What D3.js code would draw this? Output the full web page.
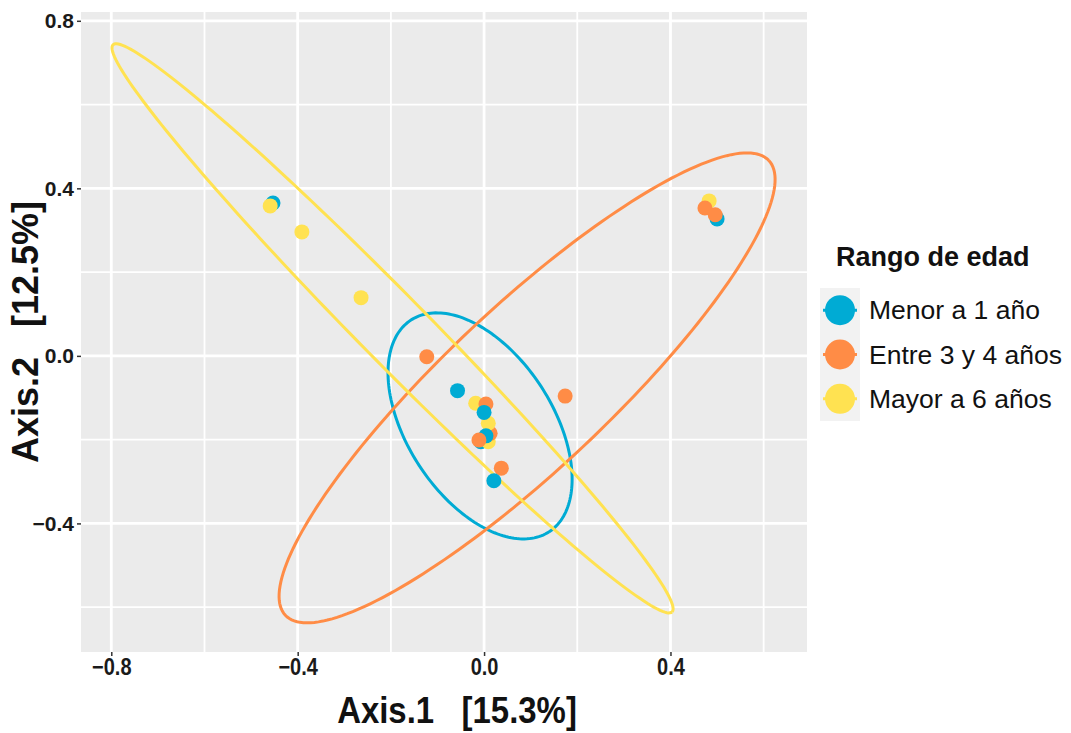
<!DOCTYPE html>
<html>
<head>
<meta charset="utf-8">
<script src="https://cdn.jsdelivr.net/npm/d3@7"></script>
<style>
  html, body { margin: 0; padding: 0; background: #ffffff; }
  svg { display: block; }
</style>
</head>
<body>
<svg id="chart" width="1071" height="733"></svg>
<script>
// Ordination (PCoA) of samples coloured by age group, with 95% ellipses.
const groups = ["Menor a 1 año", "Entre 3 y 4 años", "Mayor a 6 años"];
const groupColors = ["#00ABD4", "#FF8C46", "#FFE251"];

// Sample coordinates in plotting order (0 = Menor, 1 = Entre, 2 = Mayor)
const sampleAxis1 = [-0.453, -0.459, -0.391, -0.264,
                     0.483, 0.500, 0.474, 0.496,
                     -0.123, -0.057, 0.174,
                     -0.007, 0.009, 0.013, 0.009, -0.018, 0.004, 0.000, 0.004, -0.011,
                     0.037, 0.021];
const sampleAxis2 = [0.365, 0.358, 0.296, 0.139,
                     0.370, 0.327, 0.353, 0.337,
                     -0.002, -0.083, -0.096,
                     -0.205, -0.205, -0.185, -0.161, -0.113, -0.115, -0.135, -0.191, -0.201,
                     -0.268, -0.298];
const sampleGroup = [0, 2, 2, 2,
                     2, 0, 1, 1,
                     1, 0, 1,
                     0, 2, 1, 2, 2, 1, 0, 0, 1,
                     1, 0];

// Ellipse per group: centre plus two conjugate semi-axis vectors (axis units)
const ellipseCenter1 = [-0.0086, 0.0923, -0.1964];
const ellipseCenter2 = [-0.1672, -0.0764, 0.0657];
const ellipseMajor1  = [0.1483, 0.5187, 0.5998];
const ellipseMajor2  = [-0.2527, 0.5430, -0.6770];
const ellipseMinor1  = [-0.1305, 0.1193, 0.0519];
const ellipseMinor2  = [-0.0948, -0.1411, 0.0571];

const xTicks = [-0.8, -0.4, 0.0, 0.4];
const yTicks = [-0.4, 0.0, 0.4, 0.8];
const xMinor = [-0.6, -0.2, 0.2, 0.6];
const yMinor = [-0.6, -0.2, 0.2, 0.6];
const xTitle = "Axis.1   [15.3%]";
const yTitle = "Axis.2   [12.5%]";
const legendTitle = "Rango de edad";

const FONT = "'Liberation Sans', Arial, sans-serif";
const svg = d3.select("#chart");
const panel = { left: 81, right: 807, top: 12, bottom: 652 };

const x = d3.scaleLinear().domain([-0.865, 0.693]).range([panel.left, panel.right]);
const y = d3.scaleLinear().domain([-0.707, 0.821]).range([panel.bottom, panel.top]);

svg.append("defs").append("clipPath").attr("id", "panel-clip")
  .append("rect")
  .attr("x", panel.left).attr("y", panel.top)
  .attr("width", panel.right - panel.left).attr("height", panel.bottom - panel.top);

// panel background
svg.append("rect")
  .attr("x", panel.left).attr("y", panel.top)
  .attr("width", panel.right - panel.left).attr("height", panel.bottom - panel.top)
  .attr("fill", "#EBEBEB");

// grid
const grid = svg.append("g");
grid.selectAll(".vminor").data(xMinor).join("line")
  .attr("x1", d => x(d)).attr("x2", d => x(d))
  .attr("y1", panel.top).attr("y2", panel.bottom)
  .attr("stroke", "#fff").attr("stroke-width", 1.8);
grid.selectAll(".hminor").data(yMinor).join("line")
  .attr("y1", d => y(d)).attr("y2", d => y(d))
  .attr("x1", panel.left).attr("x2", panel.right)
  .attr("stroke", "#fff").attr("stroke-width", 1.8);
grid.selectAll(".vmajor").data(xTicks).join("line")
  .attr("x1", d => x(d)).attr("x2", d => x(d))
  .attr("y1", panel.top).attr("y2", panel.bottom)
  .attr("stroke", "#fff").attr("stroke-width", 2.8);
grid.selectAll(".hmajor").data(yTicks).join("line")
  .attr("y1", d => y(d)).attr("y2", d => y(d))
  .attr("x1", panel.left).attr("x2", panel.right)
  .attr("stroke", "#fff").attr("stroke-width", 2.8);

// axes
const fmt = d => d3.format(".1f")(d).replace("-", "\u2212");
const xAxis = svg.append("g")
  .attr("transform", `translate(0,${panel.bottom})`)
  .call(d3.axisBottom(x).tickValues(xTicks).tickFormat(fmt).tickSize(4).tickPadding(3));
const yAxis = svg.append("g")
  .attr("transform", `translate(${panel.left},0)`)
  .call(d3.axisLeft(y).tickValues(yTicks).tickFormat(fmt).tickSize(4).tickPadding(3));
[xAxis, yAxis].forEach(a => {
  a.select(".domain").remove();
  a.selectAll(".tick line").attr("stroke", "#333").attr("stroke-width", 1.5);
  a.selectAll(".tick text")
    .attr("fill", "#1a1a1a")
    .attr("font-family", FONT)
    .attr("font-weight", "bold");
});
yAxis.selectAll(".tick text").attr("font-size", 21);
xAxis.selectAll(".tick text").attr("font-size", 23).attr("transform", "scale(0.87,1)");

// ellipses
const plot = svg.append("g").attr("clip-path", "url(#panel-clip)");
const steps = d3.range(0, 201).map(i => i / 200 * 2 * Math.PI);
const line = d3.line().x(d => x(d[0])).y(d => y(d[1]));
groups.forEach((g, i) => {
  const pts = steps.map(t => [
    ellipseCenter1[i] + ellipseMajor1[i] * Math.cos(t) + ellipseMinor1[i] * Math.sin(t),
    ellipseCenter2[i] + ellipseMajor2[i] * Math.cos(t) + ellipseMinor2[i] * Math.sin(t)
  ]);
  plot.append("path")
    .attr("d", line(pts))
    .attr("fill", "none")
    .attr("stroke", groupColors[i])
    .attr("stroke-width", 3);
});

// points
plot.selectAll(".pt").data(d3.range(sampleAxis1.length)).join("circle")
  .attr("cx", i => x(sampleAxis1[i]))
  .attr("cy", i => y(sampleAxis2[i]))
  .attr("r", 7.5)
  .attr("fill", i => groupColors[sampleGroup[i]]);

// axis titles
svg.append("text")
  .attr("transform", "translate(457,723) scale(0.89,1)")
  .attr("text-anchor", "middle")
  .attr("font-family", FONT)
  .attr("font-weight", "bold").attr("font-size", 37)
  .attr("fill", "#111")
  .style("white-space", "pre")
  .text(xTitle);
svg.append("text")
  .attr("transform", `translate(38,${(panel.top + panel.bottom) / 2}) rotate(-90)`)
  .attr("text-anchor", "middle")
  .attr("font-family", FONT)
  .attr("font-weight", "bold").attr("font-size", 36)
  .attr("fill", "#111")
  .style("white-space", "pre")
  .text(yTitle);

// legend
const legend = svg.append("g");
legend.append("text")
  .attr("x", 836).attr("y", 266)
  .attr("font-family", FONT)
  .attr("font-weight", "bold").attr("font-size", 27)
  .attr("fill", "#111")
  .text(legendTitle);
legend.append("rect")
  .attr("x", 820).attr("y", 288).attr("width", 40).attr("height", 133)
  .attr("fill", "#F2F2F2");
const keyY = d3.scaleBand().domain(groups).range([288, 421]);
groups.forEach((g, i) => {
  const cy = keyY(g) + keyY.bandwidth() / 2;
  legend.append("line")
    .attr("x1", 823).attr("x2", 857).attr("y1", cy).attr("y2", cy)
    .attr("stroke", groupColors[i]).attr("stroke-width", 3);
  legend.append("circle")
    .attr("cx", 840).attr("cy", cy).attr("r", 15)
    .attr("fill", groupColors[i]);
  legend.append("text")
    .attr("x", 869).attr("y", cy + 9)
    .attr("font-family", FONT)
    .attr("font-size", 26.5)
    .attr("fill", "#111")
    .text(g);
});
</script>
</body>
</html>
